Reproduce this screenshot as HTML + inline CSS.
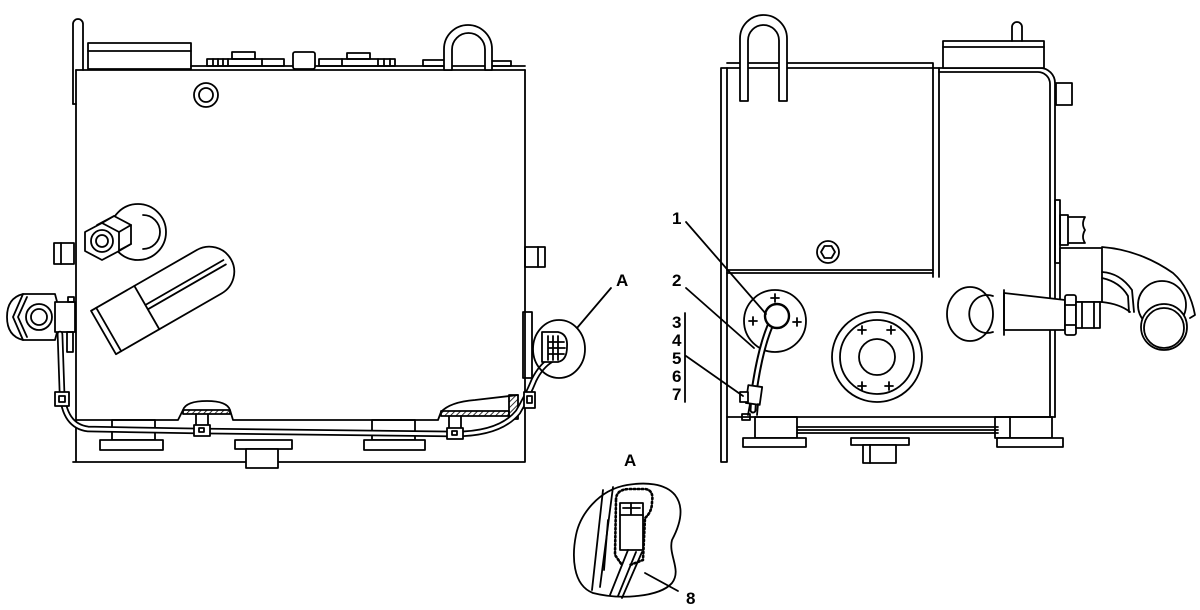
<!DOCTYPE html>
<html><head><meta charset="utf-8"><style>html,body{margin:0;padding:0;background:#fff}svg{display:block}</style></head>
<body>
<svg width="1200" height="610" viewBox="0 0 1200 610" xmlns="http://www.w3.org/2000/svg">
<defs>
<pattern id="h" width="4" height="4" patternUnits="userSpaceOnUse" patternTransform="rotate(45)"><line x1="0" y1="0" x2="0" y2="4" stroke="#000" stroke-width="1.6"/></pattern>
</defs>
<g fill="none" stroke="#000" stroke-width="1.8" stroke-linejoin="round" stroke-linecap="round">

<!-- ============ LEFT VIEW ============ -->
<path d="M73,104 V24 A5,5 0 0 1 83,24 V70"/>
<path d="M73,104 H76"/>
<rect x="88" y="43" width="103" height="26"/>
<line x1="88" y1="51" x2="191" y2="51"/>
<path d="M191,66 H525"/>
<path d="M76,70 H525"/>
<rect x="207" y="59" width="77" height="7"/>
<rect x="232" y="52" width="23" height="7"/>
<path d="M213,59v7M218,59v7M223,59v7M228,59v7M262,59v7"/>
<rect x="293" y="52" width="22" height="17" rx="2" fill="#fff"/>
<rect x="319" y="59" width="76" height="7"/>
<rect x="347" y="53" width="23" height="6"/>
<path d="M342,59v7M378,59v7M384,59v7M390,59v7"/>
<rect x="423" y="60" width="24" height="6"/>
<rect x="489" y="61" width="22" height="5"/>
<path fill="#fff" d="M444,70 V49 A24,24 0 0 1 492,49 V70 H485 V49.5 A16.5,16.5 0 0 0 452,49.5 V70 Z"/>
<circle cx="206" cy="95" r="12"/>
<circle cx="206" cy="95" r="7"/>

<path d="M76,70 V462 M525,70 V462 M73,462 H525"/>
<path d="M76,420 H178 L183,410 Q186,401 207,401 Q227,401 230,410 L233,420 H438 L441,412 Q450,402 475,400 L518,395"/>
<rect x="183" y="410" width="47" height="4" fill="url(#h)"/>
<rect x="441" y="411" width="68" height="5" fill="url(#h)"/>
<rect x="509" y="395" width="9" height="24" fill="url(#h)"/>
<rect x="112" y="420" width="43" height="20"/>
<rect x="372" y="420" width="43" height="20"/>
<rect x="100" y="440" width="63" height="10" fill="#fff"/>
<rect x="235" y="440" width="57" height="9" fill="#fff"/>
<rect x="364" y="440" width="61" height="10" fill="#fff"/>
<rect x="246" y="449" width="32" height="19" fill="#fff"/>

<rect x="54" y="243" width="20" height="21"/>
<line x1="61" y1="243" x2="61" y2="264"/>
<rect x="525" y="247" width="20" height="20"/>
<line x1="538" y1="247" x2="538" y2="267"/>
<rect x="523" y="312" width="9" height="66"/>

<!-- washer + nut -->
<circle cx="138" cy="232" r="28"/>
<path d="M143,215 A17,17 0 0 1 143,249"/>
<polygon points="131,225 114,216 97,225 97,244 114,253 131,244" fill="#fff"/>
<polygon points="119,232 102,223 85,232 85,251 102,260 119,251" fill="#fff"/>
<path d="M102,223 L114,216 M119,232 L131,225 M119,251 L131,244"/>
<circle cx="102" cy="241" r="11"/>
<circle cx="102" cy="241" r="6"/>

<!-- hose -->
<g transform="translate(103.5,332.5) rotate(-29.9)">
<path fill="#fff" d="M0,-25 H122 A25,25 0 0 1 122,25 H0 Z"/>
<path d="M6,-25 V25 M50,-25 V25 M50,-3 H140 M50,2 H140"/>
</g>

<!-- left fitting -->
<path fill="#fff" d="M23,294 Q7,298 7,317 Q7,336 23,340 H55 L61,317 L55,294 Z"/>
<path d="M23,294 L13,317 L23,340 M27,297 L18,317 L27,337"/>
<circle cx="39" cy="317" r="13"/>
<circle cx="39" cy="317" r="8"/>
<rect x="55" y="302" width="20" height="30" fill="#fff"/>
<rect x="68" y="297" width="6" height="5"/>
<rect x="67" y="332" width="6" height="20"/>

<!-- cable -->
<path stroke-width="6.5" d="M60,334 L62,392 Q64,426 88,429 L200,431 L455,434 Q500,434 518,412 Q528,395 534,380 Q541,366 551,360"/>
<path stroke="#fff" stroke-width="3" d="M60,334 L62,392 Q64,426 88,429 L200,431 L455,434 Q500,434 518,412 Q528,395 534,380 Q541,366 551,360"/>
<rect x="55" y="392" width="14" height="14" fill="#fff"/>
<rect x="59" y="396" width="6" height="6"/>
<path d="M196,414 V426 M208,414 V426"/>
<rect x="194" y="425" width="16" height="11" fill="#fff"/>
<rect x="199" y="428" width="5" height="4"/>
<path d="M449,416 V428 M461,416 V428"/>
<rect x="447" y="428" width="16" height="11" fill="#fff"/>
<rect x="452" y="431" width="5" height="4"/>
<rect x="524" y="392" width="11" height="16" fill="#fff"/>
<rect x="527" y="396" width="5" height="7"/>

<ellipse cx="559" cy="349" rx="26" ry="29"/>
<path d="M542,332 H558 Q568,334 567,347 Q567,360 558,362 H542 Z" fill="#fff"/>
<path d="M548,336 V360 M553,336 V360 M558,336 V360 M548,342 H564 M548,348 H565 M548,354 H564"/>
<path d="M577,328 L611,288"/>

<!-- ============ RIGHT VIEW ============ -->
<path d="M721,68 V462 H727 V68 Z"/>
<path d="M727,63 H933 V68 M727,68 H933"/>
<path d="M933,68 H939 M939,68 H1040 A15,15 0 0 1 1055,83 V417"/>
<path d="M939,72 H1038 A12,12 0 0 1 1050,84 V417"/>
<path d="M933,68 V277 M939,68 V277"/>
<path d="M727,270 H933 M727,273 H933"/>
<path d="M727,417 H1055"/>
<path fill="#fff" d="M740,101 V38.5 A23.5,23.5 0 0 1 787,38.5 V101 H779 V40.5 A15.5,15.5 0 0 0 748,40.5 V101 Z"/>
<rect x="943" y="41" width="101" height="27" fill="#fff"/>
<line x1="943" y1="47" x2="1044" y2="47"/>
<path d="M1012,41 V27 A5,5 0 0 1 1022,27 V41"/>
<rect x="1056" y="83" width="16" height="22"/>
<circle cx="828" cy="252" r="11"/>
<polygon points="835,252 831.5,246 824.5,246 821,252 824.5,258 831.5,258"/>

<rect x="1055" y="200" width="5" height="63"/>
<rect x="1060" y="215" width="8" height="30"/>
<path d="M1068,217 H1085 Q1081,224 1085,230 Q1081,237 1085,243 H1068"/>
<rect x="1060" y="248" width="42" height="54" fill="#fff"/>
<path d="M1102,247 Q1140,250 1173,273 Q1190,288 1195,315 L1190,318"/>
<path d="M1102,272 Q1120,273 1132,290 L1134,312 M1102,278 Q1120,282 1128,296 L1129,312"/>
<path d="M1102,302 Q1120,304 1130,312"/>
<circle cx="1162" cy="305" r="24"/>
<circle cx="1164" cy="327" r="23" fill="#fff"/>
<circle cx="1164" cy="328" r="20"/>
<ellipse cx="970" cy="314" rx="23" ry="27"/>
<path d="M993,296 A18,19 0 1 0 993,332"/>
<path fill="#fff" d="M1004,293 L1065,300 V330 H1004 Z"/>
<line x1="1004" y1="290" x2="1004" y2="335"/>
<rect x="1065" y="295" width="11" height="40" rx="2" fill="#fff"/>
<path d="M1065,305 H1076 M1065,325 H1076"/>
<rect x="1076" y="302" width="24" height="26" fill="#fff"/>
<path d="M1082,302 V328 M1094,302 V328"/>

<circle cx="775" cy="321" r="31"/>
<path d="M771,298 H779 M775,294 V302 M749,321 H757 M753,317 V325 M793,322 H801 M797,318 V326"/>
<circle cx="877" cy="357" r="45"/>
<circle cx="877" cy="357" r="37"/>
<circle cx="877" cy="357" r="18"/>
<path d="M858,330 H866 M862,326 V334 M887,330 H895 M891,326 V334 M858,386 H866 M862,382 V390 M885,386 H893 M889,382 V390"/>
<path stroke-width="7" d="M770,326 Q760,350 754,392 L753,410"/>
<path stroke="#fff" stroke-width="3" d="M770,326 Q760,350 754,392 L753,410"/>
<circle cx="777" cy="316" r="12" fill="#fff" stroke-width="2.4"/>
<rect x="747" y="386" width="14" height="18" fill="#fff" transform="rotate(8 754 395)"/>
<rect x="740" y="392" width="8" height="10" fill="#fff"/>
<path d="M750,404 L748,415 M758,404 L757,415"/>
<rect x="742" y="414" width="8" height="6"/>
<rect x="755" y="417" width="42" height="21"/>
<path d="M797,427 H998 M797,430 H998 M797,433 H998"/>
<rect x="995" y="417" width="57" height="21"/>
<line x1="1010" y1="417" x2="1010" y2="438"/>
<rect x="743" y="438" width="63" height="9" fill="#fff"/>
<rect x="851" y="438" width="58" height="7" fill="#fff"/>
<rect x="997" y="438" width="66" height="9" fill="#fff"/>
<rect x="863" y="445" width="33" height="18" fill="#fff"/>
<line x1="870" y1="445" x2="870" y2="463"/>

<path d="M686,222 L766,314"/>
<path d="M686,288 L754,348"/>
<path d="M685,313 V402"/>
<path d="M686,356 L743,396"/>

<!-- ============ DETAIL A ============ -->
<path d="M627,485 C645,482 665,483 675,495 C685,508 680,525 672,540 C668,555 682,570 672,583 C660,597 620,600 593,593 C572,585 572,555 576,535 C580,515 598,490 627,485 Z"/>
<path d="M603,490 L592,590 M613,487 L600,587"/>
<path d="M608,520 L604,570"/>
<rect x="620" y="503" width="23" height="47" fill="#fff"/>
<path d="M620,515 H643 M631,503 V515 M623,508 H640"/>
<path stroke-width="2.6" stroke-dasharray="1.5 2.5" d="M616,500 Q616,489 630,489 H645 Q654,490 652,502 Q652,512 645,518 L643,560 L630,565 M616,500 L615,555 L622,565"/>
<path d="M628,550 L610,595 M642,552 L622,598 M636,552 L618,596"/>
<path d="M645,573 L678,591"/>
</g>

<g font-family="'Liberation Sans', Arial, sans-serif" font-weight="bold" font-size="17" fill="#000">
<text x="616" y="286">A</text>
<text x="672" y="224">1</text>
<text x="672" y="286">2</text>
<text x="672" y="328">3</text>
<text x="672" y="346">4</text>
<text x="672" y="364">5</text>
<text x="672" y="382">6</text>
<text x="672" y="400">7</text>
<text x="624" y="466">A</text>
<text x="686" y="604">8</text>
</g>
</svg>
</body></html>
